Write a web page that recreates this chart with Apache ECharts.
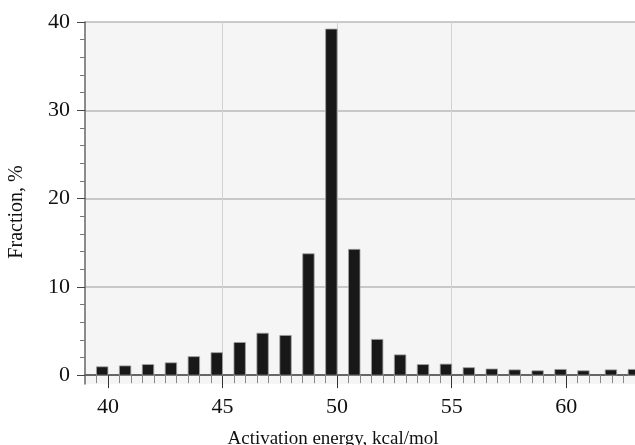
<!DOCTYPE html>
<html><head><meta charset="utf-8">
<script src="https://cdn.jsdelivr.net/npm/echarts@6/dist/echarts.min.js"></script>
<style>html,body{margin:0;padding:0;background:#fff}#c{width:635px;height:445px}</style>
</head><body><div id="c"></div>
<script>
// Bin upper edges (kcal/mol) and fraction values (%)
const energies = [40, 41, 42, 43, 44, 45, 46, 47, 48, 49, 50, 51, 52, 53, 54, 55, 56, 57, 58, 59, 60, 61, 62.2, 63.2];
const fractions = [0.95, 1.05, 1.2, 1.4, 2.1, 2.55, 3.7, 4.75, 4.5, 13.75, 39.2, 14.25, 4.05, 2.3, 1.2, 1.25, 0.85, 0.7, 0.6, 0.5, 0.65, 0.5, 0.6, 0.65];
const xTickLabels = [40, 45, 50, 55, 60];
const yTickLabels = [0, 10, 20, 30, 40];
const binWidth = 0.5;

const serif = "'Liberation Serif', 'Times New Roman', serif";
const chart = echarts.init(document.getElementById('c'), null, {renderer: 'canvas'});
chart.setOption({
  animation: false,
  backgroundColor: '#ffffff',
  grid: {left: 85, right: 0, top: 22, bottom: 61, show: true, backgroundColor: '#f5f5f5', borderWidth: 0,
         containLabel: false, outerBoundsMode: 'none'},
  xAxis: {
    type: 'value', min: 39, max: 63, splitNumber: 5,
    name: 'Activation energy, kcal/mol', nameLocation: 'middle', nameGap: 46,
    nameTextStyle: {fontFamily: serif, fontSize: 19, color: '#111', padding: [0, 54, 0, 0]},
    axisLine: {show: true, onZero: true, lineStyle: {color: '#666', width: 2}},
    axisTick: {show: true, inside: false, length: 13, customValues: xTickLabels, lineStyle: {color: '#333', width: 1}},
    minorTick: {show: true, splitNumber: 10, length: 8, lineStyle: {color: '#888', width: 1}},
    axisLabel: {customValues: xTickLabels, fontFamily: serif, fontSize: 22, color: '#111', margin: 12},
    splitLine: {show: true, showMinLine: false, showMaxLine: false, lineStyle: {color: '#d2d2d2', width: 1}},
    minorSplitLine: {show: false}
  },
  yAxis: {
    type: 'value', min: -1, max: 40,
    name: 'Fraction, %', nameLocation: 'middle', nameGap: 58, nameRotate: 90,
    nameTextStyle: {fontFamily: serif, fontSize: 20, color: '#111', padding: [0, 18, 0, 0]},
    axisLine: {show: true, onZero: false, lineStyle: {color: '#666', width: 1.5}},
    axisTick: {show: true, inside: false, length: 8, customValues: yTickLabels, lineStyle: {color: '#444', width: 1}},
    minorTick: {show: true, splitNumber: 5, length: 5, lineStyle: {color: '#777', width: 1}},
    axisLabel: {customValues: yTickLabels, fontFamily: serif, fontSize: 22, color: '#111', margin: 15},
    splitLine: {show: true, showMinLine: false, lineStyle: {color: '#b8b8b8', width: 1.5}}
  },
  series: [{
    type: 'custom',
    data: energies.map((e, i) => [e, fractions[i]]),
    encode: {x: 0, y: 1},
    renderItem: function (params, api) {
      const x = api.value(0), v = api.value(1);
      const top = api.coord([x - binWidth, v]);
      const base = api.coord([x, 0]);
      return {
        type: 'rect',
        shape: {x: top[0], y: top[1], width: base[0] - top[0], height: base[1] - top[1]},
        style: {fill: '#181818', stroke: '#a0a0a0', lineWidth: 0.8}
      };
    }
  }]
});
</script>
</body></html>
